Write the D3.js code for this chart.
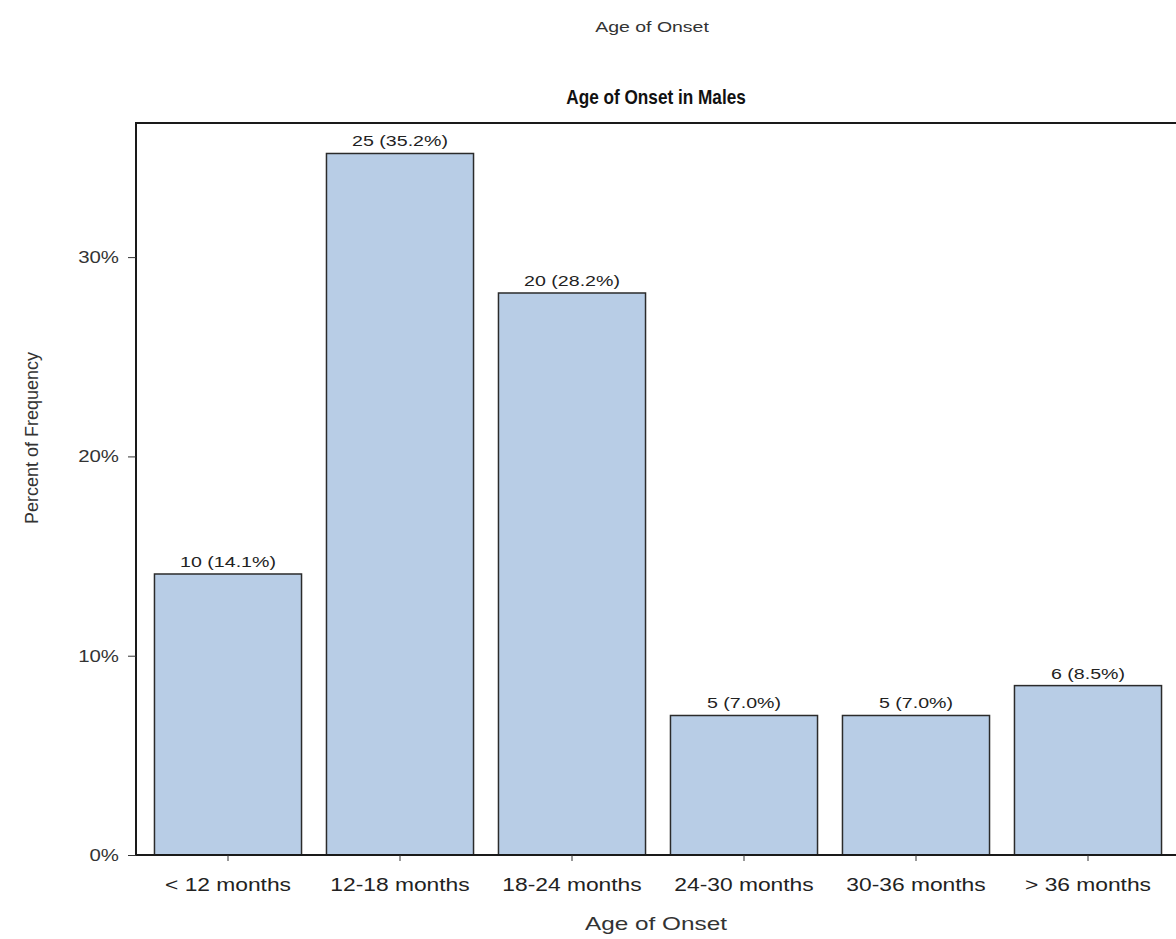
<!DOCTYPE html>
<html>
<head>
<meta charset="utf-8">
<script src="https://cdn.jsdelivr.net/npm/d3@7"></script>
<style>
  html, body { margin: 0; padding: 0; background: #fff; }
  svg { display: block; font-family: "Liberation Sans", Arial, sans-serif; }
</style>
</head>
<body>
<svg id="chart" width="1176" height="939"></svg>
<script>
const categories = ["< 12 months", "12-18 months", "18-24 months", "24-30 months", "30-36 months", "> 36 months"];
const counts = [10, 25, 20, 5, 5, 6];
const percents = [14.1, 35.2, 28.2, 7.0, 7.0, 8.5];
const yTicks = [0, 10, 20, 30];

const svg = d3.select("#chart");
const frame = { left: 136, right: 1181, top: 123, bottom: 855 };
const FONT = "Liberation Sans, Arial, sans-serif";

const x = d3.scaleBand()
  .domain(categories)
  .range([142, 1174])
  .paddingInner(0.145)
  .paddingOuter(0.0725);

const y = d3.scaleLinear()
  .domain([0, 36.73])
  .range([frame.bottom, frame.top]);

function stretchedText(parent, tx, ty, sx, str, size, opts = {}) {
  return parent.append("text")
    .attr("transform", `translate(${tx},${ty}) scale(${sx},1)`)
    .attr("text-anchor", opts.anchor || "middle")
    .attr("font-size", size)
    .attr("font-weight", opts.weight || "normal")
    .attr("fill", opts.fill || "#333")
    .text(str);
}

// Titles
stretchedText(svg, 652, 32, 1.3, "Age of Onset", 15, { fill: "#333" });
stretchedText(svg, 656, 104, 0.86, "Age of Onset in Males", 20, { fill: "#111", weight: "bold" });

// Bars
const data = categories.map((c, i) => ({ c, n: counts[i], p: percents[i] }));

svg.append("g").selectAll("rect")
  .data(data).join("rect")
  .attr("x", d => x(d.c))
  .attr("y", d => y(d.p))
  .attr("width", x.bandwidth())
  .attr("height", d => y(0) - y(d.p))
  .attr("fill", "#b8cde6")
  .attr("stroke", "#2b2b2b")
  .attr("stroke-width", 1.5);

svg.append("g").selectAll("text")
  .data(data).join("text")
  .attr("transform", d => `translate(${x(d.c) + x.bandwidth() / 2},${y(d.p) - 7}) scale(1.4,1)`)
  .attr("text-anchor", "middle")
  .attr("font-size", 14).attr("fill", "#222")
  .text(d => `${d.n} (${d.p.toFixed(1)}%)`);

// Frame
svg.append("rect")
  .attr("x", frame.left).attr("y", frame.top)
  .attr("width", frame.right - frame.left)
  .attr("height", frame.bottom - frame.top)
  .attr("fill", "none")
  .attr("stroke", "#1a1a1a").attr("stroke-width", 2);

// Y axis
const yAxis = d3.axisLeft(y)
  .tickValues(yTicks)
  .tickSize(8)
  .tickFormat(d => d + "%");
const gy = svg.append("g").attr("transform", `translate(${frame.left},0)`).call(yAxis);
gy.select(".domain").remove();
gy.selectAll("line").attr("stroke", "#333");
gy.selectAll("text")
  .attr("x", 0)
  .attr("transform", "translate(-17,0) scale(1.2,1)")
  .attr("font-size", 17).attr("fill", "#333").attr("font-family", FONT);

// X axis
const xAxis = d3.axisBottom(x).tickSize(6).tickPadding(17);
const gx = svg.append("g").attr("transform", `translate(0,${frame.bottom})`).call(xAxis);
gx.select(".domain").remove();
gx.selectAll("line").attr("stroke", "#333");
gx.selectAll("text")
  .attr("transform", "scale(1.2,1)")
  .attr("font-size", 19).attr("fill", "#222").attr("font-family", FONT);

// Axis labels
stretchedText(svg, 656, 930, 1.28, "Age of Onset", 19, { fill: "#333" });

svg.append("text")
  .attr("transform", "translate(38,438) rotate(-90)")
  .attr("text-anchor", "middle")
  .attr("font-size", 18).attr("fill", "#333")
  .text("Percent of Frequency");
</script>
</body>
</html>
